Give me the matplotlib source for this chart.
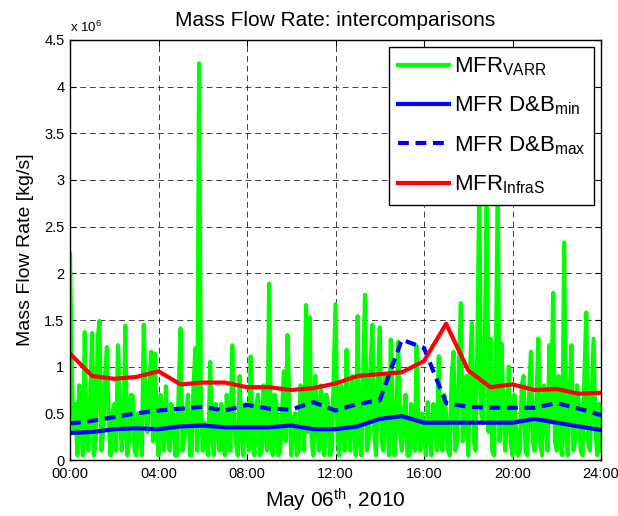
import matplotlib
matplotlib.use("Agg")
import matplotlib.pyplot as plt
from matplotlib.ticker import FuncFormatter

plt.rcParams['font.family'] = ['Liberation Sans', 'DejaVu Sans']
plt.rcParams['mathtext.fontset'] = 'custom'
plt.rcParams['mathtext.rm'] = 'Liberation Sans'
plt.rcParams['mathtext.it'] = 'Liberation Sans'

# VARR mass flow rate, 5 minute steps from 00:00 to 24:00 (units of 1e6 kg/s)
varr = [
    2.21, 0.90, 0.30, 0.60, 0.05, 0.80, 0.40, 0.05, 1.37, 0.20, 0.10, 0.70,
    1.36, 0.05, 0.20, 1.30, 1.49, 0.10, 0.30, 0.90, 1.21, 0.40, 0.05, 0.50,
    0.60, 0.10, 1.23, 0.60, 0.10, 0.30, 1.44, 0.05, 0.20, 0.70, 0.69, 0.10,
    0.05, 0.50, 0.40, 0.05, 1.45, 0.60, 0.30, 0.80, 1.16, 0.20, 1.14, 0.40,
    0.05, 0.70, 0.30, 0.10, 0.79, 0.30, 0.10, 0.60, 0.50, 0.05, 0.05, 0.80,
    1.41, 0.10, 0.20, 0.50, 0.70, 0.05, 0.05, 0.80, 1.20, 0.10, 4.25, 0.60,
    0.10, 0.40, 0.30, 0.05, 1.05, 0.30, 0.05, 0.60, 0.40, 0.10, 0.60, 0.20,
    0.05, 0.70, 0.30, 0.10, 1.23, 0.40, 0.20, 0.05, 0.90, 0.30, 0.05, 0.60,
    0.40, 0.10, 1.11, 0.30, 0.05, 0.60, 0.70, 0.05, 0.10, 0.80, 0.30, 0.10,
    1.89, 0.20, 0.05, 0.70, 0.60, 0.05, 0.10, 0.50, 0.95, 0.20, 1.34, 0.60,
    0.05, 0.40, 0.50, 0.05, 0.10, 0.80, 0.60, 0.10, 1.66, 0.30, 1.53, 0.20,
    0.05, 0.90, 0.40, 0.10, 0.80, 0.20, 0.05, 0.70, 0.60, 0.05, 0.10, 0.90,
    1.67, 0.30, 0.05, 0.80, 0.50, 0.10, 1.18, 0.40, 0.10, 0.90, 0.40, 0.05,
    1.54, 0.20, 0.05, 0.90, 1.77, 0.10, 0.20, 1.00, 1.45, 0.30, 0.05, 0.80,
    1.42, 0.20, 0.10, 0.90, 0.50, 0.05, 1.29, 0.60, 0.05, 0.40, 1.27, 0.30,
    0.10, 0.50, 0.70, 0.05, 0.05, 0.60, 0.40, 0.10, 1.22, 0.30, 0.10, 0.50,
    0.30, 0.05, 0.62, 0.30, 0.05, 0.60, 0.40, 0.10, 1.11, 0.20, 0.10, 0.70,
    0.50, 0.10, 0.05, 0.90, 1.16, 0.10, 0.20, 1.00, 1.68, 0.20, 0.30, 0.90,
    0.05, 1.00, 1.47, 0.20, 0.10, 1.30, 2.95, 0.50, 0.40, 1.20, 2.95, 0.30,
    1.30, 0.10, 0.05, 1.10, 2.95, 0.20, 1.25, 0.60, 0.10, 0.40, 1.00, 0.20,
    0.05, 0.70, 0.30, 0.05, 0.10, 0.80, 0.90, 0.10, 0.05, 0.70, 1.16, 0.20,
    0.10, 0.60, 1.30, 0.20, 0.05, 0.80, 0.50, 0.10, 1.23, 0.40, 1.79, 0.20,
    0.10, 0.90, 0.40, 0.05, 2.33, 0.30, 0.05, 0.70, 1.23, 0.10, 0.20, 0.80,
    0.60, 0.10, 0.05, 0.90, 1.58, 0.20, 0.10, 0.70, 1.30, 0.30, 0.05, 0.60,
    0.10,
]
varr_hours = [i / 12 for i in range(len(varr))]

# hourly series
hours = list(range(25))
db_min = [0.29, 0.30, 0.33, 0.34, 0.33, 0.36, 0.37, 0.35, 0.35, 0.35, 0.37, 0.33, 0.33,
          0.36, 0.44, 0.47, 0.40, 0.40, 0.40, 0.40, 0.40, 0.44, 0.40, 0.36, 0.32]
db_max = [0.39, 0.42, 0.46, 0.50, 0.53, 0.55, 0.57, 0.53, 0.59, 0.55, 0.54, 0.62, 0.53,
          0.60, 0.64, 1.29, 1.20, 0.61, 0.57, 0.56, 0.56, 0.56, 0.61, 0.55, 0.48]
infras = [1.14, 0.90, 0.87, 0.89, 0.95, 0.81, 0.83, 0.83, 0.78, 0.78, 0.75, 0.77, 0.82,
          0.90, 0.92, 0.94, 1.06, 1.46, 0.96, 0.78, 0.81, 0.75, 0.76, 0.71, 0.72]

xticks = [0, 4, 8, 12, 16, 20, 24]
xlabels = ['00:00', '04:00', '08:00', '12:00', '16:00', '20:00', '24:00']

fig = plt.figure(figsize=(6.18, 5.16), dpi=100)
ax = fig.add_axes([0.1133, 0.1085, 0.8592, 0.814])

ax.plot(varr_hours, varr, color=(0, 1, 0), lw=3.0, label=r'MFR$_{\mathregular{VARR}}$')
ax.plot(hours, db_min, color=(0, 0, 1), lw=3, label=r'MFR D&B$_{\mathregular{min}}$')
ax.plot(hours, db_max, color=(0, 0, 1), lw=3, dashes=(2.6, 1.6), label=r'MFR D&B$_{\mathregular{max}}$')
ax.plot(hours, infras, color=(1, 0, 0), lw=3, label=r'MFR$_{\mathregular{InfraS}}$')

ax.set_xlim(0, 24)
ax.set_ylim(0, 4.5)
ax.set_xticks(xticks)
ax.set_xticklabels(xlabels)
ax.set_yticks([i * 0.5 for i in range(10)])
ax.yaxis.set_major_formatter(FuncFormatter(lambda v, p: ('%g' % v)))
ax.tick_params(direction='in', top=True, right=True, labelsize=10.5, length=4)
ax.tick_params(axis='x', pad=5)
ax.tick_params(axis='y', pad=4)
ax.grid(True, color='black', linestyle=(0, (6, 4)), lw=0.7, alpha=0.75)
for s in ax.spines.values():
    s.set_linewidth(1.0)

ax.set_title('Mass Flow Rate: intercomparisons', fontsize=15, pad=10)
ax.set_xlabel(r'May 06$^{\mathregular{th}}$, 2010', fontsize=15, labelpad=4)
ax.set_ylabel('Mass Flow Rate [kg/s]', fontsize=14, labelpad=7)
ax.text(0.0, 1.012, r'x 10$^{\mathregular{6}}$', transform=ax.transAxes, fontsize=9.5,
        ha='left', va='bottom')

leg = ax.legend(loc='upper right', fontsize=16, frameon=True, fancybox=False,
                edgecolor='black', framealpha=1, handlelength=2.3, labelspacing=0.75,
                borderaxespad=0.3, handletextpad=0.2, borderpad=0.4)
leg.get_frame().set_linewidth(1.0)

fig.savefig('out.png', dpi=100)
